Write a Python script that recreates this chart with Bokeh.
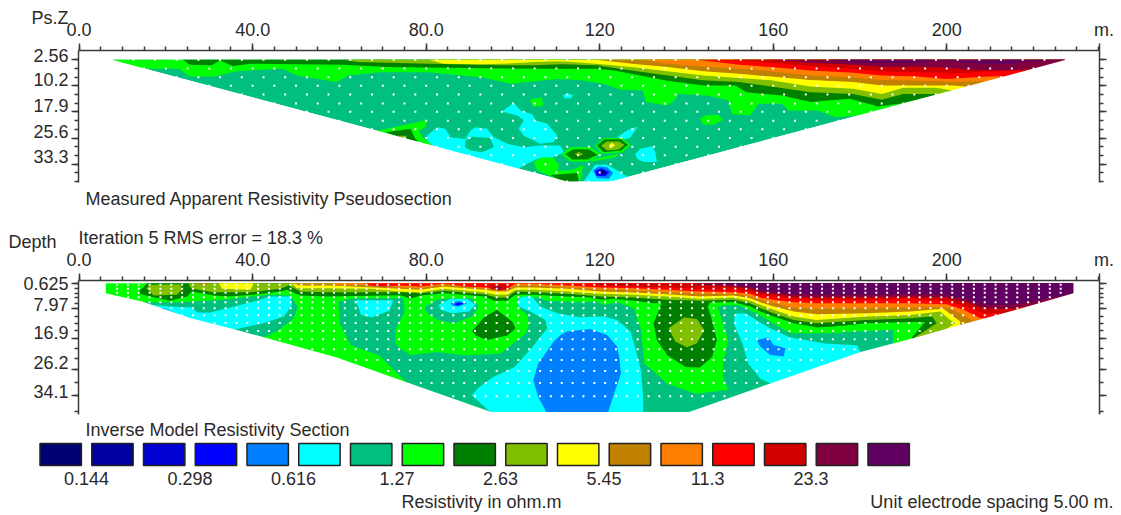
from bokeh.plotting import figure
from bokeh.layouts import column
from bokeh.models import Range1d, FixedTicker, LinearAxis, Label, Title
from bokeh.embed import file_html
from bokeh.resources import INLINE
from bokeh.core.properties import value

FONT = "Liberation Sans"
TEXT = "#2a2a2a"
AXIS = "#3a3a3a"

# colour scale (legend, low to high)
NAVY, DBLUE, MBLUE, BLUE, AZURE, CYAN, TEAL, GREEN, DGREEN, OLIVE, YELLOW, BROWN, ORANGE, RED, DRED, MAROON, PURPLE = SCALE = [
    "#000070", "#0000a0", "#0000d0", "#0000ff", "#0080ff", "#00ffff", "#00c080", "#00ff00", "#008000",
    "#80c000", "#ffff00", "#c08000", "#ff8000", "#ff0000", "#d00000", "#800040", "#600060"]
legend_values = ["0.144", "0.298", "0.616", "1.27", "2.63", "5.45", "11.3", "23.3"]
legend_value_pos = [0.9, 2.9, 4.9, 6.9, 8.9, 10.9, 12.9, 14.9]

x_major = [0, 40, 80, 120, 160, 200, 235.1]
x_labels = ["0.0", "40.0", "80.0", "120", "160", "200", "\u00a0\u00a0m."]
x_minor = [i * 5 for i in range(48)]

ps_major = [2.56, 10.2, 17.9, 25.6, 33.3]
ps_labels = ["2.56", "10.2", "17.9", "25.6", "33.3"]
ps_label_at = [1.29, 8.36, 16.0, 23.6, 31.0]   # the labels sit a little above their ticks
ps_minor = [2.56, 5.12, 7.68, 10.2, 12.8, 15.4, 17.9, 20.5, 23.0, 25.6, 28.2, 30.7, 33.3, 35.8, 38.4]

md_major = [0.625, 7.97, 16.9, 26.2, 34.1]
md_labels = ["0.625", "7.97", "16.9", "26.2", "34.1"]
md_label_at = [0.625, 6.87, 15.1, 24.2, 32.8]
md_minor = [0.625, 2.13, 3.51, 4.62, 6.42, 7.97, 10.3, 12.4, 14.5, 16.9, 19.9, 22.9, 26.2, 30.05, 34.1, 38.9]

# ---------- pseudosection (x in m, pseudo depth) ----------
ps_wedge = [(7.5, 2.56), (227.5, 2.56), (122.5, 38.4), (112.5, 38.4)]
ps_blobs = [
    (CYAN, [(97.5, 17.8), (100.2, 15.2), (101.7, 17.5), (104.4, 18.5), (105.2, 20.4), (107.9, 21.4), (110.2, 24.9), (109.4, 26.8), (106.3, 27.3), (102.5, 24.9), (101.3, 22.9), (102.5, 20.4), (101, 19)]),
    (CYAN, [(80.2, 24.9), (82.5, 22.4), (84.4, 22.9), (85.6, 25.4), (89, 25.9), (90.2, 23.4), (91.4, 22.4), (94, 22.9), (95.6, 25.4), (98.7, 27.3), (102.5, 28.3), (106.3, 27.8), (110.9, 27.8), (111.7, 29.8), (109.4, 31.3), (105.6, 31.7), (103.3, 33.2), (101, 34.7), (85.6, 30.8), (80.2, 26.8)]),
    (TEAL, [(89, 26.3), (90.6, 25.2), (94.8, 25.6), (95.6, 28.3), (92.9, 29.8), (90.2, 29.3), (89, 28.3)]),
    (CYAN, [(111.5, 13), (112.5, 12.4), (113.9, 13), (113.3, 13.9), (111.9, 13.9)]),
    (GREEN, [(103.8, 14.3), (106.7, 13.6), (106.9, 16), (104.8, 16.5)]),
    (GREEN, [(143.1, 20), (144.3, 19), (147.2, 18.7), (148.4, 20.2), (146.3, 21.6), (143.9, 21.6)]),
    (GREEN, [(104.8, 32.7), (106.7, 31.3), (109.4, 31.4), (110.6, 33.7), (110.2, 35.2), (113.2, 35.2), (116.3, 33.5), (115.5, 38.1), (111.7, 38.4), (105.6, 35.2)]),
    (DGREEN, [(108.6, 36.5), (114.8, 35.9), (115.2, 38.4), (111.7, 38.6)]),
    (GREEN, [(69, 23.4), (75.6, 21.6), (80.4, 20.2), (79.8, 22.4), (78.3, 23.4), (79.1, 25.4), (81.4, 27.6), (78, 27.5), (68, 24)]),
    (DGREEN, [(70.6, 23.9), (76.4, 22.9), (77.5, 25.9), (78.3, 26.6), (76, 26.5)]),
    (OLIVE, [(73.3, 24.9), (75.6, 24.9), (75.2, 25.7)]),
    (CYAN, [(124, 25.4), (126.3, 23.4), (128.8, 22.2), (127.1, 25.4), (125.9, 26)]),
    (CYAN, [(128.2, 30.3), (129.4, 28.8), (132.1, 28), (132.8, 29.8), (133.2, 32.7), (130.1, 32.7), (128.6, 31.7)]),
    (GREEN, [(118, 32), (125, 30), (123, 31.5), (118, 32.5)]),
    (GREEN, [(118.9, 27.8), (120.9, 25.6), (125.2, 25.6), (127.1, 27.6), (125.2, 29.8), (120.5, 30.3)]),
    (DGREEN, [(119.4, 27.8), (121.1, 26), (124.9, 26), (126.5, 27.6), (124.9, 29.3), (120.9, 29.8)]),
    (OLIVE, [(120.3, 27.8), (121.7, 26.6), (124.4, 26.6), (125.7, 27.6), (124.4, 29), (121.7, 29.3)]),
    (YELLOW, [(122.1, 27.8), (122.8, 27), (123.6, 27.8), (122.8, 28.4)]),
    (GREEN, [(111.2, 30.3), (113.2, 28.3), (117.9, 28.3), (120.2, 30.3), (117.5, 32.5), (113.2, 32.5)]),
    (DGREEN, [(112.1, 30.3), (113.9, 28.9), (117.5, 28.9), (119.5, 30.5), (117.2, 31.9), (113.6, 31.9)]),
    (OLIVE, [(114.2, 30.3), (115.2, 29.7), (116.2, 30.4), (115.2, 31)]),
    (CYAN, [(117.5, 36.2), (119, 33.5), (121.7, 33.5), (124, 35.2), (126.7, 37.2), (125.5, 38.4), (116.3, 38.4)]),
    (AZURE, [(118.4, 35.2), (119.8, 33.9), (121.7, 34.2), (123.1, 35.9), (122.1, 37.6), (119.4, 37.4)]),
    (BLUE, [(118.9, 35.2), (120.5, 34.5), (122.2, 35.7), (121.3, 36.9), (119.2, 36.7)]),
    (NAVY, [(119.8, 35.4), (120.9, 35.2), (121.5, 35.9), (120.5, 36.5)]),
]
# lower boundary of each colour that hangs from the top of the section
ps_bands = [
    (GREEN, [(7.5, 2.56), (14.8, 5.2), (23, 5.2), (25.5, 7.5), (31.3, 7.5), (36.2, 5.9), (46.9, 5.2), (50.2, 7.2), (59.3, 9.1), (62.1, 7.2), (69.1, 6.2), (80.7, 6.2), (93, 7.8), (99.4, 9.6), (110.2, 8.2), (115.9, 8.6), (120.8, 9.6), (124.9, 11.4), (129.9, 11.6), (130.7, 15), (135.6, 16), (137.6, 14), (138, 12.6), (144.7, 13.1), (149.6, 14.5), (150.5, 18.5), (154.6, 19), (156.6, 15.5), (162, 15.5), (163.6, 17.5), (170.2, 17.5), (174.3, 19.5), (179.2, 19), (185, 19)]),
    (DGREEN, [(23.9, 2.56), (25.5, 4), (30.5, 4.2), (32.5, 2.8), (35.4, 4.4), (39.5, 3.7), (60.9, 4), (70.8, 4.7), (88.9, 5), (111, 5.2), (119.2, 5.2), (123.3, 5.7), (135.6, 8.7), (143.9, 10.1), (151.3, 10.1), (153.7, 12.1), (162, 13.1), (168.6, 15), (177.6, 14), (184.2, 16.3), (189.1, 15.5), (194.1, 14), (195.7, 13.6)]),
    (OLIVE, [(60.9, 2.56), (64.2, 3.2), (80.7, 3.7), (97.1, 4.2), (105, 4.2), (111, 3.9), (119.2, 4.2), (127.4, 5.7), (135.6, 7.2), (143.9, 8.6), (152.1, 9.1), (159.5, 10.4), (168.6, 12.1), (178.4, 12.6), (185, 14.3), (190, 12.6), (197.4, 12.6)]),
    (YELLOW, [(80.7, 2.56), (84, 3.7), (92, 3.9), (100, 3.6), (105, 3.2), (111, 3), (119.2, 3.7), (127.4, 4.7), (135.6, 5.9), (143.9, 7.2), (152.1, 7.9), (159.5, 8.6), (168.6, 10.4), (178.4, 11.1), (185, 12.6), (190, 10.8), (197.4, 10.8), (201, 11.5)]),
    (BROWN, [(119.2, 2.56), (127.4, 3.7), (135.6, 4.7), (143.9, 5.9), (152.1, 6.7), (159.5, 7.5), (168.6, 8.5), (178.4, 9.1), (185, 10.1), (193.3, 10.1), (201.5, 10.1), (205.6, 10.6)]),
    (ORANGE, [(129.6, 2.56), (135.6, 3.7), (143.9, 4.5), (152.1, 5.2), (159.5, 5.9), (168.6, 7.2), (178.4, 7.7), (185, 8.5), (193.3, 8.7), (201.5, 9), (209.7, 8.9)]),
    (RED, [(142.6, 2.56), (152.1, 4), (159.5, 4.7), (168.6, 5.7), (178.4, 6.4), (185, 7.2), (193.3, 7.5), (199.8, 8.2), (209.7, 7.5), (214, 7.4)]),
    (DRED, [(150.5, 2.56), (159.5, 3.5), (168.6, 4.4), (178.4, 5.2), (185, 6), (193.3, 6.2), (201.5, 6.5), (216.3, 5.7), (219, 5.8)]),
    (MAROON, [(158.7, 2.56), (168.6, 3.4), (178.4, 4), (185, 4.7), (197.4, 4.7), (205.6, 5.5), (213.8, 5.7), (220.4, 5.2)]),
    (PURPLE, [(172.7, 2.56), (179.2, 3.4), (193.3, 3.4), (199, 2.8), (208, 3.7), (214.5, 3.7), (220.4, 3), (227.5, 2.56)]),
]
ps_row_start = [7.5, 15, 22.5, 30, 37.5, 45, 52.5, 60, 67.5, 75, 82.5, 90, 97.5, 105, 112.5]
ps_row_end = [227.5, 220, 212.5, 205, 197.5, 190, 182.5, 175, 167.5, 160, 152.5, 145, 137.5, 130, 122.5]
ps_row_depth = ps_minor

# ---------- inverse model section (x in m, depth) ----------
md_left_edge = [(6.1, 0.4), (6.1, 3.4), (14.5, 5.9), (25.6, 10.8), (36.4, 14.4), (59.4, 22.7), (75.3, 30), (95, 39)]
md_right_edge = [(229.2, 0.4), (229.2, 3.4), (217.8, 7.7), (201.8, 13.4), (193.3, 16.5), (180.1, 21), (160.3, 30), (140.6, 39)]
md_blobs = [
    (TEAL, [(59.7, 5), (60.1, 12.5), (62.6, 19), (69.1, 22), (75.3, 30), (95, 39.2), (140, 39.2), (187.7, 20), (187.7, 4)]),
    (GREEN, [(74.8, 4), (75, 9), (72.9, 14.4), (72.9, 18.4), (74, 20), (76.5, 22), (82.3, 21), (88.9, 22), (97.1, 21.5), (102.9, 15.5), (103.7, 12.9), (103.3, 9.9), (101, 7.4), (101, 4)]),
    (CYAN, [(63.8, 5.5), (72.4, 5.5), (71.6, 8.6), (67.5, 10.6), (65, 10)]),
    (TEAL, [(79.8, 7.4), (82.5, 5.4), (87.1, 4.4), (90.6, 4.9), (92.1, 7.4), (90.6, 10.4), (86.4, 12.4), (82.5, 11.4), (79.8, 8.9)]),
    (CYAN, [(82.9, 6.9), (85.6, 5.1), (89.4, 5.1), (91.4, 6.9), (89.8, 8.9), (86, 9.4), (83.3, 8.4)]),
    (AZURE, [(85.6, 6.4), (87.5, 5.7), (89.4, 6.4), (87.5, 7.4), (86, 7.1)]),
    (BLUE, [(86.4, 6.7), (87.5, 6.2), (88.7, 6.6), (87.1, 7.1)]),
    (CYAN, [(100.95, 5.9), (102.1, 4.4), (104.4, 4.4), (106.3, 7.4), (110.2, 9.4), (115.5, 10.6), (120.9, 10.4), (124, 11.4), (127.1, 14.9), (128.2, 19.9), (129.5, 26.5), (130, 34.5), (130, 39.2), (95, 39.2), (90.5, 34), (92.2, 31.5), (95.5, 28.5), (100.4, 25.5), (104.5, 19.5), (107.9, 13.9), (107.5, 11.4), (104, 8.9), (101.3, 7.4)]),
    (AZURE, [(111, 15.9), (112.5, 14.9), (117.8, 14.1), (121.7, 15.9), (124, 19.4), (124.5, 22.5), (124.9, 27.5), (123.3, 33.5), (121.9, 39.2), (107.8, 39.2), (105.8, 34.5), (104.7, 29.5), (105.8, 24.5), (106.7, 22.9), (109.4, 17.9)]),
    (TEAL, [(14.9, 6.1), (23.3, 6.1), (33.3, 5.4), (43.3, 3.9), (48.7, 4.1), (50.4, 7.4), (49.5, 10.9), (46, 14.4), (42.9, 16.5), (35, 15.5), (20, 9), (14, 7)]),
    (CYAN, [(16.4, 6.9), (21, 7.4), (26, 7.7), (27.2, 9.2), (30.3, 9.2), (34.1, 7.9), (41, 5.7), (44.1, 4.4), (48.7, 4.4), (49.1, 6.9), (47.2, 10.4), (42.5, 12.4), (36, 14.2), (30, 14), (16, 8)]),
    (AZURE, [(17.2, 7.7), (19.5, 7.9), (25.6, 11.1), (23.3, 10.8), (17.2, 8.5)]),
    (BLUE, [(17.6, 8.1), (18.7, 8.4), (21, 9.4), (19, 9.4)]),
    (CYAN, [(150.9, 12.5), (151.3, 9.5), (153.7, 9.5), (158.7, 13.5), (163.6, 16.5), (171.9, 18.5), (179.3, 19), (180.1, 21), (170.2, 26), (160.3, 31), (157, 29), (154.2, 24.5), (152.9, 18.5)]),
    (AZURE, [(156.2, 17.4), (158.9, 16.7), (160.1, 18.9), (162.8, 19.9), (162.4, 22.4), (159.3, 21.9), (157, 19.4)]),
    (GREEN, [(52, 0.4), (52, 4.4), (59.7, 6), (64, 4.6), (74, 4.5), (80, 5), (90, 5), (101, 4.2), (104.8, 4.2), (107.9, 5.7), (114.8, 6.1), (119.4, 5.9), (120.9, 6.9), (124, 6.1), (127.8, 7.9), (135, 8), (147.2, 7.5), (149, 7), (152.1, 7), (156.2, 9.4), (159.3, 11.9), (163.9, 15.4), (168.5, 15.4), (173.1, 15.4), (178.5, 14.9), (187.7, 14.4), (187.7, 20), (232, 39), (232, 0.4)]),
    (GREEN, [(127.8, 6), (127.8, 7.5), (129.5, 14.5), (130.3, 24.5), (135.6, 30.5), (142.2, 33.5), (149.6, 32.3), (148.4, 28.5), (148.4, 24.5), (149.6, 17.5), (147.2, 7.5), (147, 6)]),
    (DGREEN, [(134.4, 6), (132.4, 12.5), (133.2, 17.5), (135.6, 22), (139.8, 25.5), (143.1, 25.7), (145.9, 22.5), (147, 17.5), (145.9, 11.5), (144.9, 7.5), (145.5, 6)]),
    (OLIVE, [(135.9, 13.9), (139.4, 10.7), (142.4, 11.1), (144.1, 14.4), (142.4, 18.4), (140.1, 19.6), (137.4, 17.9)]),
    (DGREEN, [(90.6, 14.7), (93.3, 10.7), (96.3, 8.4), (99.8, 11.9), (100.6, 13.9), (98.7, 16.1), (94, 17.4), (91.4, 16.1)]),
    (DGREEN, [(13.4, 3.4), (15.7, 0.4), (25.3, 0.4), (26, 2.9), (24.9, 4.4), (21, 5.7), (16.4, 4.4)]),
    (OLIVE, [(15.5, 1.9), (16.4, 0.9), (23.3, 0.7), (23.7, 2.4), (22.6, 3.9), (17.2, 4.1)]),
]
md_bands = [
    (DGREEN, [(25.5, 2), (26, 2.9), (31, 4.1), (34.1, 4.4), (40.2, 3.9), (46.4, 2.9), (47.9, 2.4), (51, 4.1), (57.1, 4.4), (74.1, 4), (76.3, 5.1), (78.7, 4.1), (84.1, 3.4), (93.3, 4.4), (95.6, 5.7), (98.6, 5.7), (100.6, 3.9), (104.8, 3.9), (112.5, 4.4), (117.8, 4.7), (120.2, 5.4), (123.2, 5.1), (127.8, 5.7), (132.4, 6.4), (145.5, 6.1), (150.9, 6.1), (154.7, 7.4), (157, 8.9), (160.1, 10.4), (164.7, 12.4), (170, 13.7), (173.9, 13.4), (181.6, 12.4), (191.6, 12), (195, 12), (192, 16.6), (192, 20)]),
    (OLIVE, [(25.5, 1.5), (26, 2.1), (31, 3.1), (39.5, 3.1), (46.4, 2.1), (48.3, 1.1), (51, 2.9), (57.1, 3.1), (74.8, 3.1), (78.7, 3.4), (84.1, 2.7), (93.3, 3.7), (96.3, 4.7), (98.6, 4.7), (100.6, 2.9), (104.8, 3.1), (112.5, 3.6), (120.2, 4.4), (127.8, 4.7), (135.5, 5.4), (143.2, 5.7), (150.9, 5.4), (154.7, 6.4), (157, 7.9), (160.1, 9.4), (164.7, 11.4), (170, 12.4), (181.6, 11.4), (191.6, 10.9), (196.6, 10.4), (197.7, 12.4), (192.3, 16.9)]),
    (YELLOW, [(49, 0.4), (50.2, 1.9), (57.1, 1.9), (67.1, 2.1), (74.1, 2.9), (78.7, 3.1), (84.1, 2.1), (93.3, 3.1), (96.3, 3.9), (98.6, 3.9), (100.6, 2.4), (104.8, 2.4), (112.5, 2.9), (120.2, 3.6), (127.8, 3.9), (135.5, 4.4), (143.2, 5.1), (150.9, 4.7), (154.7, 5.7), (157, 6.9), (160.1, 8.4), (164.7, 10.4), (170, 11.4), (181.6, 10.4), (191.6, 9.9), (198.5, 8.9), (200.8, 11.4), (201.9, 12.4), (199.5, 14.5)]),
    (BROWN, [(49, 0.4), (51, 1.1), (58, 1.1), (74.1, 2.1), (78.7, 2.4), (84.1, 1.4), (93.3, 2.4), (96.3, 2.9), (98.6, 2.9), (100.6, 1.7), (104.8, 1.7), (112.5, 2.1), (120.2, 2.9), (127.8, 3.2), (135.5, 3.7), (143.2, 4.4), (150.9, 4.1), (154.7, 4.9), (157, 6.1), (160.1, 7.4), (164.7, 8.9), (170, 9.7), (181.6, 9.4), (191.6, 8.9), (199.2, 8.1), (203.1, 11.9), (203.1, 13.4)]),
    (ORANGE, [(58, 0.4), (59.4, 0.9), (65.6, 0.9), (74.1, 1.7), (78.7, 1.9), (84.1, 0.9), (93.3, 1.9), (96.3, 2.4), (98.6, 2.4), (100.6, 1.1), (104.8, 1.1), (112.5, 1.6), (120.2, 2.2), (127.8, 2.6), (135.5, 3.1), (143.2, 3.6), (150.9, 3.6), (154.7, 4.4), (157, 5.4), (160.1, 6.4), (164.7, 7.7), (170, 8.1), (181.6, 7.9), (191.6, 7.7), (200, 7.7), (203.9, 9.9), (206.2, 11.9)]),
    (RED, [(65.6, 0.4), (67.1, 1.1), (70.2, 1.4), (74.1, 1.1), (78.7, 1.4), (84.1, 0.6), (89.4, 1.4), (96.3, 1.9), (98.6, 2.1), (100.6, 0.6), (104.8, 0.6), (112.5, 1.1), (120.2, 1.7), (127.8, 1.9), (135.5, 2.4), (143.2, 2.9), (150.9, 3.1), (154.7, 3.6), (157, 4.7), (160.1, 5.4), (164.7, 6.1), (170, 6.4), (181.6, 6.4), (191.6, 6.4), (200, 6.7), (203.9, 8.4), (207.7, 10.9), (211.5, 10.7)]),
    (DRED, [(116.3, 0.4), (121.7, 1.1), (127.8, 1.4), (135.5, 1.7), (143.2, 2.1), (150.9, 2.4), (154.7, 2.9), (157, 3.9), (160.1, 4.4), (164.7, 5.1), (170, 5.4), (181.6, 5.4), (191.6, 5.1), (200, 5.7), (204.6, 7.4), (208.5, 9.4), (214.6, 9.4), (217.7, 8.1)]),
    (MAROON, [(141.7, 0.4), (143.2, 0.9), (150.9, 1.4), (154.7, 2.1), (157, 3.1), (160.1, 3.6), (164.7, 4.4), (170, 4.6), (181.6, 4.6), (191.6, 4.4), (200, 4.7), (204.6, 6.1), (208.5, 7.9), (214.6, 8.1), (220, 6.9)]),
    (PURPLE, [(147, 0.4), (150.9, 0.9), (154.7, 1.4), (157, 2.4), (160.1, 2.9), (164.7, 3.6), (170, 3.9), (181.6, 3.9), (191.6, 3.6), (200, 3.9), (204.6, 5.1), (208.5, 6.9), (214.6, 6.9), (220.7, 5.7), (229.2, 3.4)]),
]
md_spots = [
    (BROWN, [(27.2, 0.4), (28.7, 1.1), (30.2, 0.4)]),
    (YELLOW, [(32.2, 0.4), (33, 2.1), (39.5, 2.4), (40.2, 0.4)]),
    (DRED, [(94.4, 0.9), (96.3, 0.7), (98.6, 0.9), (99.4, 2.1), (96.7, 2.6), (94.8, 2.1)]),
    (MAROON, [(95.6, 1.6), (96.7, 1.4), (97.5, 1.9), (96.7, 2.3)]),
]
md_row_depth = [0.9, 2.1, 3.3, 4.6, 6.1, 7.9, 10, 12.3, 14.7, 17.2, 20.2, 23.4, 26.7, 30.3, 34.3]
md_row_start = [8.75, 8.75, 8.75, 11.25, 16.25, 21.25, 23.75, 28.75, 38.75, 46.25, 53.75, 63.75, 71.25, 78.75, 86.25]
md_row_end = [226.25, 226.25, 226.25, 223.75, 221.25, 216.25, 211.25, 203.75, 196.25, 188.75, 178.75, 171.25, 163.75, 156.25, 148.75]

FRAME_L = 78


def axes(p, major, labels, label_at, minor):
    top = p.xaxis[0]
    top.ticker = FixedTicker(ticks=x_major, minor_ticks=x_minor)
    top.major_label_overrides = dict(zip(x_major, x_labels))
    left = p.yaxis[0]
    left.ticker = FixedTicker(ticks=major, minor_ticks=minor)
    left.major_label_overrides = {v: "" for v in major}
    left.major_label_standoff = 0
    right = LinearAxis(ticker=FixedTicker(ticks=major, minor_ticks=minor))
    right.major_label_overrides = {v: "" for v in major}
    p.add_layout(right, "right")
    for a in (top, left, right):
        a.axis_line_color = AXIS
        a.axis_line_width = 1.5
        a.major_tick_line_color = AXIS
        a.minor_tick_line_color = AXIS
        a.major_tick_line_width = 1.5
        a.minor_tick_line_width = 1.5
        a.major_tick_out = 7
        a.major_tick_in = 0
        a.minor_tick_out = 4
        a.minor_tick_in = 0
    top.major_label_text_font = FONT
    top.major_label_text_font_size = "18px"
    top.major_label_text_color = TEXT
    top.major_label_standoff = 4
    # a second left axis, with neither line nor ticks, carries the depth labels
    lab = LinearAxis(ticker=FixedTicker(ticks=label_at),
                     axis_line_color=None, major_tick_line_color=None, minor_tick_line_color=None,
                     major_tick_out=0, major_tick_in=0, minor_tick_out=0, minor_tick_in=0,
                     major_label_standoff=3, major_label_text_font=FONT, major_label_text_font_size="18px",
                     major_label_text_color=TEXT)
    lab.major_label_overrides = dict(zip(label_at, labels))
    p.add_layout(lab, "left")


def make(height, top_b, bottom_b, yr):
    p = figure(width=1121, height=height, x_range=Range1d(-0.14, 235.2), y_range=Range1d(*yr),
               x_axis_location="above", y_axis_location="left",
               output_backend="svg", toolbar_location=None,
               min_border_left=FRAME_L, min_border_right=22, min_border_top=top_b, min_border_bottom=bottom_b)
    p.grid.visible = False
    p.outline_line_color = None
    p.background_fill_color = "white"
    p.border_fill_color = "white"
    return p


def poly(p, color, pts):
    p.patch([a for a, _ in pts], [b for _, b in pts], fill_color=color, line_color=None)


def band(p, color, lower, top, deep):
    poly(p, color, [(lower[0][0], top)] + lower + [(232, deep), (232, top)])


def dots(p, depth, start, end, step):
    xs, ys = [], []
    for d, a, b in zip(depth, start, end):
        x = a
        while x <= b + 1e-6:
            xs.append(x)
            ys.append(d)
            x += step
    p.scatter(xs, ys, marker="square", size=2, fill_color="white", line_color=None)


def side_title(p, s, offset, standoff, valign, place="above"):
    # titles live in the side panels, so they are not clipped to the frame
    p.add_layout(Title(text=s, align="left", offset=offset, standoff=standoff, vertical_align=valign,
                       text_font=FONT, text_font_size="18px", text_font_style="normal", text_color=TEXT), place)


def text(p, origin_y, s, px, py, align="left"):
    p.add_layout(Label(x=px, y=py - origin_y, x_units="canvas", y_units="canvas", text=s,
                       text_font=FONT, text_font_size="18px", text_color=TEXT,
                       text_align=align, text_baseline="middle"))


# ------------ panel 1
p1 = make(215, 50, 33, (38.71, -0.18))
axes(p1, ps_major, ps_labels, ps_label_at, ps_minor)
poly(p1, TEAL, ps_wedge)
for c, pts in ps_blobs:
    poly(p1, c, pts)
for c, low in ps_bands:
    band(p1, c, low, 2.56, 38)
poly(p1, "white", [(-0.5, 2), (7.5, 2), (7.5, 2.56), (112.5, 38.4), (122.5, 38.4), (227.5, 2.56), (228, 2), (234, 2), (234, 38.65), (-0.5, 38.65)])
dots(p1, ps_row_depth, ps_row_start, ps_row_end, 5)
side_title(p1, "Ps.Z", -47, -23, "bottom")
side_title(p1, "Measured Apparent Resistivity Pseudosection", 7, 10, "middle", "below")

# ------------ panel 2
p2 = make(203, 65, 4, (39.75, -0.4))
axes(p2, md_major, md_labels, md_label_at, md_minor)
poly(p2, GREEN, [(6.1, 0.4), (229.2, 0.4), (229.2, 39.2), (6.1, 39.2)])
for c, pts in md_blobs:
    poly(p2, c, pts)
for c, low in md_bands:
    band(p2, c, low, 0.4, 39)
for c, pts in md_spots:
    poly(p2, c, pts)
poly(p2, "white", [(-0.5, 0), (6, 0)] + md_left_edge + md_right_edge[::-1] + [(229.3, 0), (234, 0), (234, 39.6), (-0.5, 39.6)])
dots(p2, md_row_depth, md_row_start, md_row_end, 2.5)
side_title(p2, "Depth", -70, -13, "middle")
side_title(p2, "Iteration 5 RMS error = 18.3 %", 0, -33, "middle")

# ------------ legend
p3 = figure(width=1121, height=97, x_range=Range1d(-0.7633, 20.899), y_range=Range1d(97, 0),
            x_axis_location=None, y_axis_location=None, output_backend="svg", toolbar_location=None,
            min_border=0, min_border_left=0, min_border_right=0, min_border_top=0, min_border_bottom=0,
            frame_align=False)
p3.grid.visible = False
p3.outline_line_color = None
idx = list(range(len(SCALE)))
p3.quad(left=idx, right=[i + 0.8 for i in idx], top=25, bottom=47, fill_color=SCALE,
        line_color="#222222", line_width=1.5)
p3.text(legend_value_pos, [60] * len(legend_values), text=legend_values, text_font=value(FONT),
        text_font_size="18px", text_color=TEXT, text_align="center", text_baseline="middle")
text(p3, 418, "Inverse Model Resistivity Section", 85, 429)
text(p3, 418, "Resistivity in ohm.m", 481, 501, "center")
text(p3, 418, "Unit electrode spacing 5.00 m.", 1113, 501, "right")

page = column(p1, p2, p3, spacing=0)
open("out.html", "w").write(file_html(page, INLINE))
